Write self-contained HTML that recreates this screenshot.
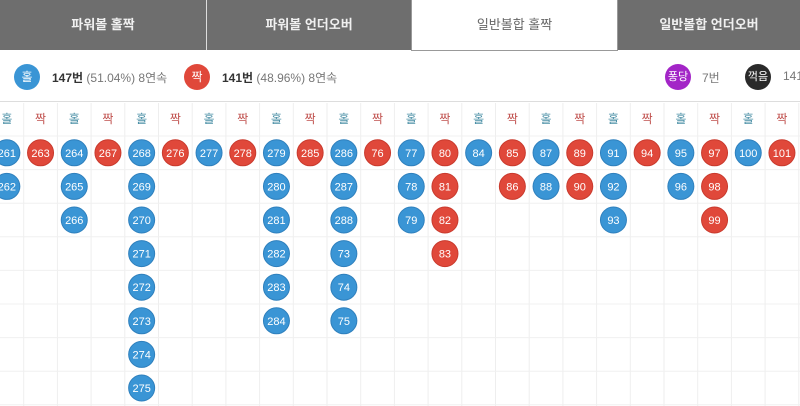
<!DOCTYPE html>
<html><head><meta charset="utf-8">
<style>
body{margin:0;width:800px;height:406px;overflow:hidden;background:#fff;font-family:"Liberation Sans","Noto Sans CJK KR",sans-serif;}
#tabs{position:absolute;left:0;top:0;width:800px;height:50px;background:#6e6e6e;}
.tab{position:absolute;top:0;height:50px;line-height:50px;text-align:center;color:#f0f0f0;font-size:13px;font-weight:bold;}
.tab.active{background:#fff;color:#666;font-weight:normal;top:0;height:48px;border:1px solid #999;border-top:none;box-sizing:border-box;height:51px}
.sep{position:absolute;top:0;width:1px;height:50px;background:#ddd;}
.lb{position:absolute;width:26px;height:26px;border-radius:50%;color:#fff;font-size:12px;line-height:26px;text-align:center;}
.lt{position:absolute;font-size:12px;color:#777;top:69px;}
.lt b{color:#333;}
</style></head><body>
<div id="tabs">
<div class="tab" style="left:0;width:206px">파워볼 홀짝</div>
<div class="sep" style="left:206px"></div>
<div class="tab" style="left:207px;width:204px">파워볼 언더오버</div>
<div class="tab active" style="left:411px;width:207px">일반볼합 홀짝</div>
<div class="tab" style="left:618px;width:182px">일반볼합 언더오버</div>
</div>
<div class="lb" style="left:14px;top:64px;background:#3a95d5">홀</div>
<div class="lt" style="left:52px"><b>147번</b> (51.04%) 8연속</div>
<div class="lb" style="left:184px;top:64px;background:#e0483a">짝</div>
<div class="lt" style="left:222px"><b>141번</b> (48.96%) 8연속</div>
<div class="lb" style="left:665px;top:64px;background:#a325c7;font-size:11px">퐁당</div>
<div class="lt" style="left:702px">7번</div>
<div class="lb" style="left:745px;top:64px;background:#2a2a2a;font-size:11px">꺽음</div>
<div class="lt" style="left:783px">141</div>
<div style="position:absolute;left:0;top:101px;width:800px;height:1px;background:#ddd"></div>
<svg id="board" width="800" height="406" style="position:absolute;left:0;top:0"></svg>
<script>
const colTypes=["홀","짝","홀","짝","홀","짝","홀","짝","홀","짝","홀","짝","홀","짝","홀","짝","홀","짝","홀","짝","홀","짝","홀","짝"];
const colValues=[[261,262],[263],[264,265,266],[267],[268,269,270,271,272,273,274,275],[276],[277],[278],[279,280,281,282,283,284],[285],[286,287,288,73,74,75],[76],[77,78,79],[80,81,82,83],[84],[85,86],[87,88],[89,90],[91,92,93],[94],[95,96],[97,98,99],[100],[101]];
const NS="http://www.w3.org/2000/svg";
const svg=document.getElementById('board');
const cw=33.7,x0=-10,top0=103,hh=33,rh=33.6;
const cx=i=>x0+cw*i+cw/2;
const cy=j=>top0+hh+rh*j+rh/2;
function mk(t,a){const e=document.createElementNS(NS,t);for(const k in a)e.setAttribute(k,a[k]);svg.appendChild(e);return e;}
for(let i=0;i<=colTypes.length;i++){
 const l=mk('line',{x1:x0+cw*i,x2:x0+cw*i,y1:top0,y2:406,stroke:'#eee'});
 
 
}
for(let j=0;j<9;j++){
 const y=top0+hh+rh*j;
 const l=mk('line',{x1:0,x2:800,y1:y,y2:y,stroke:'#f0f0f0'});
 
 
}
colTypes.forEach((t,i)=>{
 const odd=t==="홀";
 const h=mk('text',{x:cx(i),y:top0+20,'text-anchor':'middle','font-size':12,fill:odd?'#4a8fa6':'#c0504d','font-family':'"Liberation Sans","Noto Sans CJK KR",sans-serif'});
 h.textContent=t;
 
 
 colValues[i].forEach((v,j)=>{
  const c=mk('circle',{cx:cx(i),cy:cy(j),r:13,fill:odd?'#3a95d5':'#e0483a',stroke:odd?'#2f80bd':'#c93a2d'});
  
  
  const tx=mk('text',{x:cx(i),y:cy(j)+4,'text-anchor':'middle','font-size':11,fill:'#fff','font-family':'"Liberation Sans",sans-serif'});
  tx.textContent=v;
  
  
 });
});
</script>
</body></html>
